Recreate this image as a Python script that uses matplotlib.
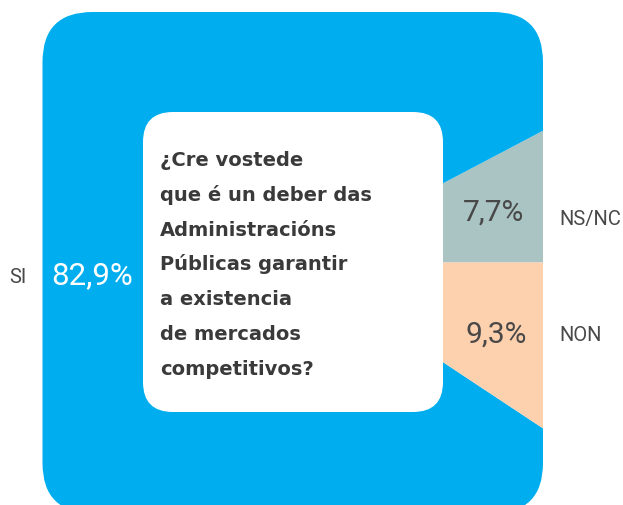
import matplotlib
matplotlib.use("Agg")
import matplotlib.pyplot as plt
from matplotlib.patches import FancyBboxPatch, PathPatch
from matplotlib.patches import BoxStyle

categories = ["NS/NC", "SI", "NON"]
values = [7.7, 82.9, 9.3]
colors = ["#AAC3C3", "#00AEEF", "#FDD0AE"]
question = ["¿Cre vostede", "que é un deber das", "Administracións",
            "Públicas garantir", "a existencia", "de mercados", "competitivos?"]

W, H = 623, 506
fig = plt.figure(figsize=(W / 100, H / 100), dpi=100)
ax = fig.add_axes([0, 0, 1, 1])


def Y(py):
    return H - py


cx, cy = 292.5, 263.5
wedges, _ = ax.pie(values, colors=colors, startangle=0, counterclock=True,
                   center=(cx, Y(cy)), radius=420,
                   wedgeprops=dict(linewidth=0))
ax.set_xlim(0, W)
ax.set_ylim(0, H)
ax.set_aspect("auto")

outer_path = BoxStyle.Round(pad=0, rounding_size=50)(42.5, Y(514), 500.5, 501, 1.0)
outer = PathPatch(outer_path, transform=ax.transData, facecolor="none",
                  edgecolor="none")
ax.add_patch(outer)
for w in wedges:
    w.set_clip_on(True)
    w.set_clip_path(outer)

inner = FancyBboxPatch((143, Y(413)), 300, 300,
                       boxstyle="round,pad=0,rounding_size=30",
                       facecolor="white", edgecolor="none", zorder=5)
ax.add_patch(inner)

dark = "#3A3A3A"
for i, line in enumerate(question):
    ax.text(160, Y(166 + i * 34.8), line, fontsize=14, fontweight="bold",
            family="DejaVu Sans", color=dark, ha="left", va="baseline", zorder=6)


def pct(v):
    return f"{v:.1f}%".replace(".", ",")


vals = dict(zip(categories, values))
grey = "#484848"
ax.text(92.5, Y(276), pct(vals["SI"]), fontsize=22.5, family="Roboto",
        color="white", ha="center", va="center", zorder=6)
ax.text(17.5, Y(277.5), "SI", fontsize=14.5, family="Roboto",
        color=grey, ha="center", va="center")
ax.text(494, Y(212.5), pct(vals["NS/NC"]), fontsize=21.5, family="Roboto",
        color=grey, ha="center", va="center", zorder=6)
ax.text(559, Y(220), "NS/NC", fontsize=14.5, family="Roboto",
        color=grey, ha="left", va="center")
ax.text(496.5, Y(335), pct(vals["NON"]), fontsize=21.5, family="Roboto",
        color=grey, ha="center", va="center", zorder=6)
ax.text(559, Y(335.5), "NON", fontsize=14.5, family="Roboto",
        color=grey, ha="left", va="center")

ax.axis("off")
fig.savefig("out.png", dpi=100)
